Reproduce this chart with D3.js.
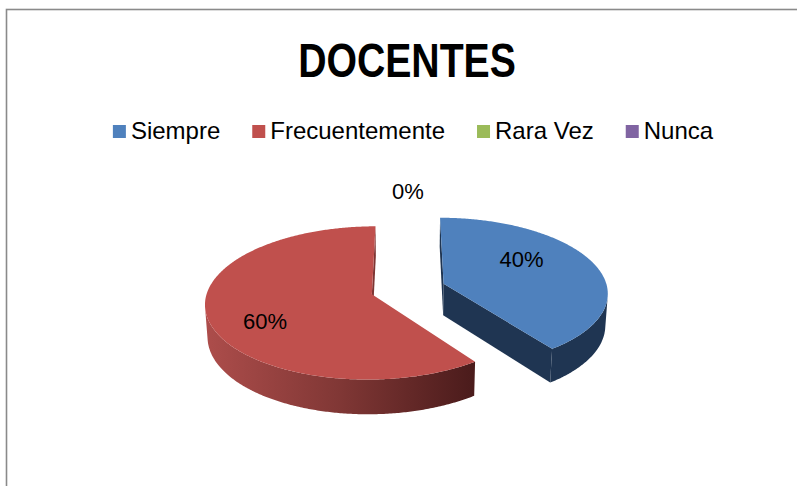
<!DOCTYPE html>
<html>
<head>
<meta charset="utf-8">
<script src="https://cdn.jsdelivr.net/npm/d3@7"></script>
<style>
  body { margin: 0; background: #fff; }
  svg { display: block; }
</style>
</head>
<body>
<div id="chart"></div>
<script>
// data
var categories = ["Siempre", "Frecuentemente", "Rara Vez", "Nunca"];
var values = [40, 60, 0, 0];
var colors = ["#4f81bd", "#c0504d", "#9bbb59", "#8064a2"];
var sideColors = ["#1f3552", "#7e3533", "#5d7135", "#4c3b61"];
var title = "DOCENTES";

var width = 797, height = 486;

// 3d view settings
var cx = 408, cy = 289;      // screen pos of pie center (top face)
var S = 164;                 // pixels per radius
var D = 8;                   // camera distance (perspective)
var tilt = 27 * Math.PI / 180;
var thick = 0.22;            // pie height, in radii
var explode = 0.23;
var sinT = Math.sin(tilt), cosT = Math.cos(tilt);
var cam = [0, D * sinT, -D * cosT];

var svg = d3.select("#chart")
			.append("svg")
			.attr("width", width)
			.attr("height", height)
			.style("font-family", "'Liberation Sans', Arial, sans-serif");

svg.append("rect")
	.attr("width", width)
	.attr("height", height)
	.style("fill", "#fff");

// chart area border (only top and left show in the frame)
svg.append("rect")
	.attr("x", 6.5)
	.attr("y", 9.5)
	.attr("width", 820)
	.attr("height", 500)
	.style("fill", "none")
	.style("stroke", "#8a8a8a")
	.style("stroke-width", 1.6);

// narrow bold title
svg.append("text")
	.attr("transform", "translate(407,77) scale(0.8,1)")
	.attr("text-anchor", "middle")
	.style("font-size", "49px")
	.style("font-weight", "bold")
	.style("fill", "#000")
	.text(title);

// legend
var legend = svg.append("g");
var lx = 0, gap = 32;
categories.forEach(function(c, i) {
	var item = legend.append("g").attr("transform", "translate(" + lx + ",0)");
	item.append("rect")
		.attr("x", 0).attr("y", -14)
		.attr("width", 13).attr("height", 13)
		.style("fill", colors[i]);
	var t = item.append("text")
		.attr("x", 18).attr("y", 0)
		.style("font-size", "24px")
		.style("fill", "#000")
		.text(c);
	lx += 18 + t.node().getComputedTextLength() + gap;
});
lx -= gap;
legend.attr("transform", "translate(" + (413 - lx / 2) + ",139)");

// projection
function project(X, Y, Z) {
	var u = Y * cosT + Z * sinT;
	var w = D + Z * cosT - Y * sinT;
	return [cx + S * X * D / w, cy - S * u * D / w];
}

var pie = d3.pie().sort(null).value(function(d) { return d; });
var arcs = pie(values);

arcs.forEach(function(a, i) {
	var mid = (a.startAngle + a.endAngle) / 2;
	a.ox = explode * Math.sin(mid);
	a.oz = explode * Math.cos(mid);
	a.index = i;
});

function rim(a, ang, y) {
	return project(a.ox + Math.sin(ang), y, a.oz + Math.cos(ang));
}

function visible(p, n) {
	return n[0] * (cam[0] - p[0]) + n[1] * (cam[1] - p[1]) + n[2] * (cam[2] - p[2]) > 0;
}

var line = d3.line();
var defs = svg.append("defs");
var lower = svg.append("g");
var upper = svg.append("g");

arcs.filter(function(a) { return a.value > 0; }).forEach(function(a) {
	var i = a.index;
	var steps = Math.max(2, Math.ceil((a.endAngle - a.startAngle) / 0.01));
	var angs = d3.range(steps + 1).map(function(s) {
		return a.startAngle + (a.endAngle - a.startAngle) * s / steps;
	});

	// cut faces
	[[a.startAngle, -1], [a.endAngle, 1]].forEach(function(f) {
		var na = f[0] + f[1] * Math.PI / 2;
		var n = [Math.sin(na), 0, Math.cos(na)];
		if (!visible([a.ox, 0, a.oz], n)) return;
		var pts = [
			project(a.ox, 0, a.oz),
			rim(a, f[0], 0),
			rim(a, f[0], -thick),
			project(a.ox, -thick, a.oz)
		];
		lower.append("path")
			.attr("d", line(pts) + "Z")
			.style("fill", sideColors[i]);
	});

	// outer side, only where it faces the camera
	var vis = angs.filter(function(ang) {
		var p = [a.ox + Math.sin(ang), 0, a.oz + Math.cos(ang)];
		return visible(p, [Math.sin(ang), 0, Math.cos(ang)]);
	});
	if (vis.length > 1) {
		var top = vis.map(function(ang) { return rim(a, ang, 0); });
		var bot = vis.map(function(ang) { return rim(a, ang, -thick); }).reverse();
		var xs = top.map(function(p) { return p[0]; });
		var gid = "side" + i;
		var grad = defs.append("linearGradient")
			.attr("id", gid)
			.attr("gradientUnits", "userSpaceOnUse")
			.attr("x1", d3.min(xs)).attr("x2", d3.max(xs))
			.attr("y1", 0).attr("y2", 0);
		var base = d3.color(sideColors[i]);
		var light = i === 1 ? d3.color("#ad4d4b") : base;
		var dark = i === 1 ? d3.color("#4a1b1b") : base;
		grad.append("stop").attr("offset", 0).attr("stop-color", light);
		grad.append("stop").attr("offset", 0.5).attr("stop-color", d3.interpolateRgb(light, dark)(0.45));
		grad.append("stop").attr("offset", 1).attr("stop-color", dark);
		lower.append("path")
			.attr("d", line(top.concat(bot)) + "Z")
			.style("fill", "url(#" + gid + ")");
	}

	// top face
	var face = [project(a.ox, 0, a.oz)].concat(angs.map(function(ang) { return rim(a, ang, 0); }));
	upper.append("path")
		.attr("d", line(face) + "Z")
		.style("fill", colors[i]);
});

// data labels
var fmt = d3.format(".0%");
var total = d3.sum(values);
var labelNudge = [[-5, -12], [-18, 14]];
var zeroShown = false;
arcs.forEach(function(a, i) {
	var p, txt = fmt(a.value / total);
	if (a.value > 0) {
		var mid = (a.startAngle + a.endAngle) / 2;
		p = project(a.ox + 0.55 * Math.sin(mid), 0, a.oz + 0.55 * Math.cos(mid));
		p = [p[0] + labelNudge[i][0], p[1] + labelNudge[i][1]];
	} else {
		if (zeroShown) return;
		zeroShown = true;
		p = project(a.ox, 0, a.oz + 1.3);
	}
	svg.append("text")
		.attr("x", p[0])
		.attr("y", p[1])
		.attr("dy", ".35em")
		.attr("text-anchor", "middle")
		.style("font-size", "22px")
		.style("fill", "#000")
		.text(txt);
});
</script>
</body>
</html>
